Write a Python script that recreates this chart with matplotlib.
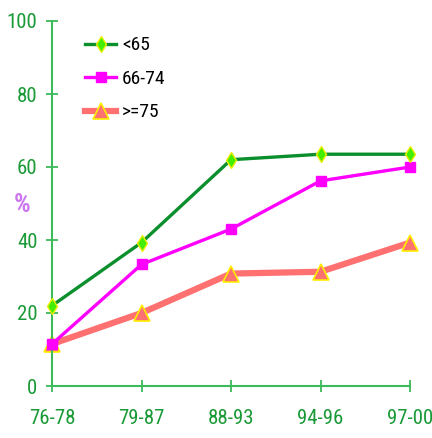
import matplotlib
matplotlib.use("Agg")
import matplotlib.pyplot as plt

periods = ["76-78", "79-87", "88-93", "94-96", "97-00"]
under_65 = [22, 39.3, 62, 63.5, 63.5]
age_66_74 = [11.5, 33.3, 43, 56.2, 60]
over_75 = [11.5, 20, 30.8, 31.3, 39.3]
yticks = [0, 20, 40, 60, 80, 100]

plt.rcParams["font.family"] = ["Roboto Condensed", "DejaVu Sans Condensed",
                               "Liberation Sans Narrow", "Lato", "DejaVu Sans"]

fig = plt.figure(figsize=(4.32, 4.38), dpi=100)
ax = fig.add_axes([52 / 432, 1 - 386 / 438, 358 / 432, 365 / 438])

x = list(range(len(periods)))
ax.plot(x, under_65, color="#0a8f2c", lw=2.4, marker="d", ms=8,
        mfc="#44ee00", mec="#eeee00", mew=1.0, label="<65", clip_on=False, zorder=4)
ax.plot(x, age_66_74, color="#ff00ff", lw=2.4, marker="s", ms=7,
        mfc="#ff00ff", mec="#ff00ff", label="66-74", clip_on=False, zorder=3)
ax.plot(x, over_75, color="#ff7070", lw=4.5, marker="^", ms=11,
        mfc="#ff7070", mec="#ffee00", mew=1.2, label=">=75", clip_on=False, zorder=2)

ax.set_xlim(0, len(periods) - 1)
ax.set_ylim(0, 100)
ax.set_xticks(x)
ax.set_xticklabels(periods)
ax.set_yticks(yticks)

axis_green = "#3dba5a"
label_green = "#1a9a36"
for side in ("top", "right"):
    ax.spines[side].set_visible(False)
for side in ("left", "bottom"):
    ax.spines[side].set_color(axis_green)
    ax.spines[side].set_linewidth(1.5)
ax.tick_params(axis="both", direction="inout", length=9, width=1.3,
               color=axis_green, labelcolor=label_green, labelsize=15)
ax.tick_params(axis="x", pad=12)
ax.tick_params(axis="y", pad=6)

fig.text(22 / 432, 1 - 205 / 438, "%", color="#cc77ee", fontsize=19,
         fontweight="bold", ha="center", va="center")

leg = ax.legend(loc="upper left", bbox_to_anchor=(0.06, 0.99), frameon=False,
                fontsize=14, handlelength=1.6, labelspacing=0.8,
                handletextpad=0.3, borderaxespad=0.2)

fig.savefig("out.png", dpi=100, facecolor="white")
